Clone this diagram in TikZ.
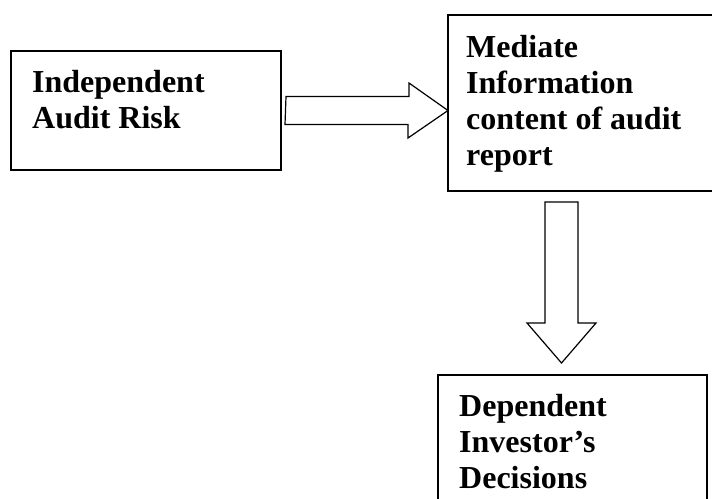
\documentclass[tikz,border=0pt]{standalone}
\usepackage{fontspec}
\setmainfont{Liberation Serif}
\tikzset{
  box/.style={draw,line width=1.3pt,rectangle,anchor=north west,inner sep=0pt,outer sep=0pt},
  lbl/.style={anchor=north west,inner sep=0pt,text width=240pt,align=flush left,
    font=\fontsize{32}{36}\selectfont\bfseries},
  fat/.style={draw,line width=1.2pt,line join=miter}
}
\begin{document}
\begin{tikzpicture}
  [x=1pt,y=-1pt]
  \useasboundingbox (0,0) rectangle (712,498);
  \clip (0,0) rectangle (712,498);
  \node[box,minimum width=270pt,minimum height=119pt] (ind) at (11,51) {};
  \node[box,minimum width=300pt,minimum height=176pt] (med) at (448,15) {};
  \node[box,minimum width=269pt,minimum height=160pt] (dep) at (438,375) {};

  \node[lbl] (indlbl) at (32,68) {\rule{0pt}{24pt}Independent\\Audit Risk};
  \node[lbl] (medlbl) at (466,33) {\rule{0pt}{24pt}Mediate\\Information\\content of audit\\report};
  \node[lbl] (deplbl) at (459,392) {\rule{0pt}{24pt}Dependent\\Investor’s\\Decisions};

  % block arrows
  \coordinate (rtail) at ([xshift=5pt]ind.east);
  \coordinate (rtip) at (med.west |- rtail);
  \coordinate (dtail) at (561.5,202);
  \coordinate (dtip) at (561.5,363);
  \draw[fat] (rtail) ++(0,-14) -- ++(123,0) -- ++(0,-13.5) -- (rtip)
    -- ++(-40,27.5) -- ++(0,-13.5) -- ++(-123,0) -- cycle;
  \draw[fat] (dtail) ++(-16.5,0) -- ++(0,121) -- ++(-18,0) -- (dtip)
    -- ++(34.5,-40) -- ++(-18,0) -- ++(0,-121) -- cycle;
\end{tikzpicture}
\end{document}
